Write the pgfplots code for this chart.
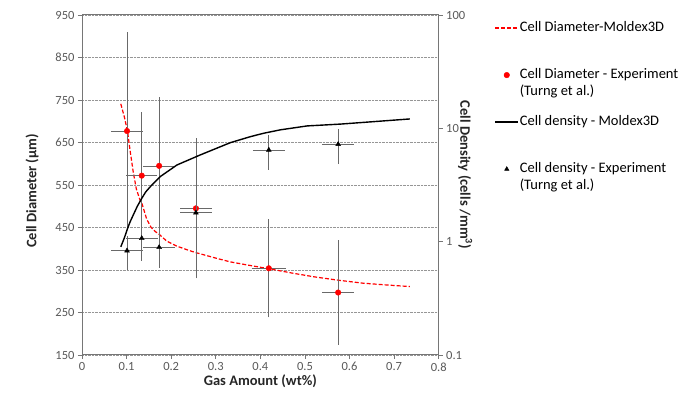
\documentclass[border=0pt]{standalone}
\usepackage{fontspec}
\setmainfont{Carlito}
\usepackage{pgfplots}
\pgfplotsset{compat=1.18}
\definecolor{axgray}{RGB}{118,118,118}
\definecolor{tickgray}{RGB}{89,89,89}
\definecolor{errgray}{RGB}{105,105,105}
\definecolor{gridgray}{RGB}{150,150,150}
\newcommand{\twoline}[2]{\smash{\begin{tabular}[t]{@{}l@{}}#1\\#2\end{tabular}}}
\begin{document}
\begin{tikzpicture}
\pgfplotsset{
  every axis/.append style={
    scale only axis, width=356.7pt, height=340pt,
    xmin=0, xmax=0.8,
    axis line style={axgray, line width=1pt},
    every tick/.style={axgray, line width=0.8pt},
    major tick length=4pt,
    tick align=outside,
    tick label style={font=\fontsize{12.5}{14}\selectfont, text=tickgray},
    label style={font=\bfseries\fontsize{14.5}{17}\selectfont, text=black!85},
    /pgf/number format/assume math mode=true,
  },
}
\begin{axis}[
  ymin=150, ymax=950,
  ytick={150,250,350,450,550,650,750,850,950},
  xtick={0,0.1,0.2,0.3,0.4,0.5,0.6,0.7,0.8},
  xticklabels={0,0.1,0.2,0.3,0.4,0.5,0.6,0.7,0.8},
  xtick pos=bottom, ytick pos=left,
  ymajorgrids, grid style={densely dotted, gridgray, line width=0.6pt},
  xlabel={Gas Amount (wt\%)},
  ylabel={Cell Diameter (μm)},
  ylabel style={yshift=10pt, xshift=-6pt},
  xlabel style={yshift=3pt},
  legend style={draw=none, fill=none, at={(1.148,0.993)}, anchor=north west,
    font=\fontsize{14.5}{17}\selectfont,
    nodes={inner sep=1pt, text height=11pt, text depth=4pt}, row sep=30pt},
  legend cell align=left,
  legend image code/.code={\draw[mark repeat=2,mark phase=2,#1] plot coordinates {(0cm,0cm) (0.4cm,0cm) (0.8cm,0cm)};},
]
\coordinate (bbsw) at (rel axis cs:0,0);
\coordinate (bbne) at (rel axis cs:1,1);
% Moldex3D diameter
\addplot[forget plot, red, line width=1.2pt, dash pattern=on 4pt off 2pt] coordinates {
(0.087,741) (0.095,710) (0.102,677) (0.108,630) (0.115,580) (0.122,540)
(0.130,515) (0.134,508) (0.145,470) (0.155,450) (0.165,440) (0.173,434)
(0.19,418) (0.213,406) (0.24,396) (0.255,391) (0.30,378) (0.333,369)
(0.375,361) (0.419,353) (0.47,343) (0.52,334) (0.5745,326) (0.63,319)
(0.68,315) (0.7355,311)};
\addlegendimage{red, line width=1.2pt, dash pattern=on 4pt off 2pt}
\addlegendentry{Cell Diameter-Moldex3D}
% experiment error bars
\addplot[forget plot, draw=none, mark=none,
  error bars/.cd, x dir=both, x explicit, y dir=both, y explicit,
  error bar style={errgray, line width=0.7pt}, error mark options={errgray, line width=0.7pt, mark size=2pt}]
  table[x=x, y=y, x error=ex, y error=ey] {
x y ex ey
0.101 677 0.031 228
0.134 572 0.030 145
0.173 595 0.031 157
0.2555 495 0.031 160
0.419 354 0.034 111
0.5745 297 0.031 118
};
\addplot[only marks, mark=*, mark size=2.8pt, color=red] coordinates {
(0.101,677) (0.134,572) (0.173,595) (0.2555,495) (0.419,354) (0.5745,297)};
\addlegendentry{\twoline{Cell Diameter - Experiment}{(Turng et al.)}}
\addlegendimage{black, line width=1.4pt}
\addlegendentry{Cell density - Moldex3D}
\addlegendimage{only marks, mark=triangle*, mark size=2.5pt, black}
\addlegendentry{\twoline{Cell density - Experiment}{(Turng et al.)}}
\end{axis}
\begin{axis}[
  ymode=log, ymin=0.1, ymax=100,
  axis y line*=right, axis x line=none,
  ytick={0.1,1,10,100}, yticklabels={0.1,1,10,100},
  yminorticks=false,
  ylabel={Cell Density (cells /mm\textsuperscript{3})},
  ylabel style={rotate=180, yshift=-14pt, xshift=-10pt},
]
\addplot[black, line width=1.4pt] coordinates {
(0.087,0.90) (0.095,1.08) (0.102,1.30) (0.108,1.50) (0.115,1.72) (0.124,2.05)
(0.134,2.41) (0.143,2.75) (0.153,3.05) (0.175,3.74) (0.213,4.75) (0.265,5.82)
(0.3326,7.47) (0.3775,8.44) (0.407,9.04) (0.445,9.70) (0.505,10.5) (0.58,10.9)
(0.66,11.5) (0.7355,12.1)};
\addplot[draw=none, mark=none,
  error bars/.cd, x dir=both, x explicit, y dir=both, y explicit,
  error bar style={errgray, line width=0.7pt}, error mark options={errgray, line width=0.7pt, mark size=2pt}]
  table[x=x, y=y, x error=ex, y error=ey] {
x y ex ey
0.101 0.832 0.031 0.25
0.134 1.07 0.031 0.36
0.173 0.891 0.031 0.28
0.2555 1.80 0.031 0.53
0.419 6.44 0.031 1.96
0.5745 7.23 0.031 2.2
};
\addplot[only marks, mark=triangle*, mark size=2.8pt, black] coordinates {
(0.101,0.832) (0.134,1.07) (0.173,0.891) (0.2555,1.80) (0.419,6.44) (0.5745,7.23)};
\end{axis}
\pgfresetboundingbox
\path ([xshift=-82pt,yshift=-44pt]bbsw) rectangle ([xshift=242.3pt,yshift=15pt]bbne);
\end{tikzpicture}
\end{document}
